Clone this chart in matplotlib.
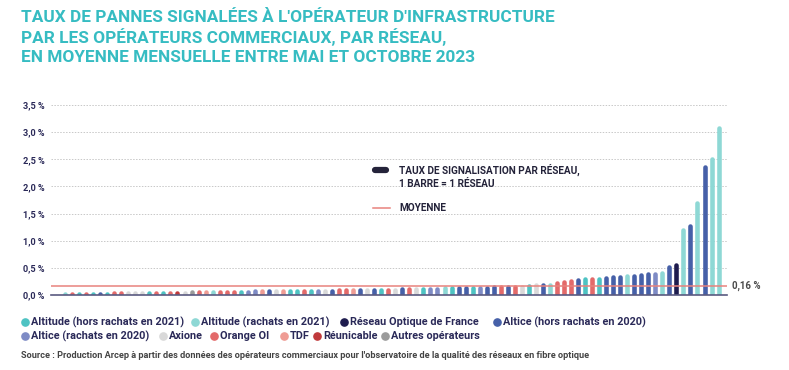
import matplotlib
matplotlib.use("Agg")
import matplotlib.pyplot as plt
from matplotlib.lines import Line2D

plt.rcParams['font.family'] = ['Roboto', 'DejaVu Sans']

# ---- data ----
operators = [
    "Axione", "Altitude (rachats en 2021)", "Orange OI", "Altitude (hors rachats en 2021)", "Orange OI",
    "Altitude (hors rachats en 2021)", "Altice (hors rachats en 2020)", "Altitude (hors rachats en 2021)", "Orange OI", "Orange OI",
    "Axione", "Axione", "Axione", "Altitude (hors rachats en 2021)", "Orange OI",
    "Altitude (hors rachats en 2021)", "Orange OI", "Réunicable", "Axione", "Autres opérateurs",
    "Orange OI", "TDF", "Altitude (rachats en 2021)", "Orange OI", "Orange OI",
    "Orange OI", "Altitude (hors rachats en 2021)", "Altice (rachats en 2020)", "Altice (rachats en 2020)", "TDF",
    "Altice (hors rachats en 2020)", "Axione", "TDF", "Altitude (hors rachats en 2021)", "Altitude (hors rachats en 2021)",
    "Orange OI", "Altitude (hors rachats en 2021)", "Altice (rachats en 2020)", "Axione", "Altice (hors rachats en 2020)",
    "Orange OI", "Orange OI", "TDF", "Altice (hors rachats en 2020)", "Axione",
    "Altice (hors rachats en 2020)", "Altitude (hors rachats en 2021)", "Orange OI", "Axione", "Altice (hors rachats en 2020)",
    "Orange OI", "Axione", "Altitude (hors rachats en 2021)", "Altice (rachats en 2020)", "Altice (rachats en 2020)",
    "Altitude (rachats en 2021)", "Altitude (hors rachats en 2021)", "Altice (hors rachats en 2020)", "Altice (hors rachats en 2020)", "Altitude (hors rachats en 2021)",
    "Altice (rachats en 2020)", "Altice (hors rachats en 2020)", "Altice (hors rachats en 2020)", "Orange OI", "Altice (hors rachats en 2020)",
    "Orange OI", "Axione", "Altitude (hors rachats en 2021)", "Axione", "Altice (hors rachats en 2020)",
    "Altitude (rachats en 2021)", "Orange OI", "Orange OI", "Orange OI", "Altice (hors rachats en 2020)",
    "Altitude (hors rachats en 2021)", "Orange OI", "Altitude (hors rachats en 2021)", "Altice (hors rachats en 2020)", "Altice (hors rachats en 2020)",
    "Altice (hors rachats en 2020)", "Altitude (rachats en 2021)", "Altice (hors rachats en 2020)", "Altice (hors rachats en 2020)", "Altice (hors rachats en 2020)",
    "Altice (rachats en 2020)", "Altitude (rachats en 2021)", "Altice (hors rachats en 2020)", "Réseau Optique de France", "Altitude (rachats en 2021)",
    "Altice (hors rachats en 2020)", "Altitude (rachats en 2021)", "Altice (hors rachats en 2020)", "Altitude (rachats en 2021)", "Altitude (rachats en 2021)",
]
rates = [
    0.005, 0.01, 0.015, 0.015, 0.02, 0.02, 0.025, 0.025, 0.03, 0.03,
    0.03, 0.035, 0.035, 0.035, 0.04, 0.04, 0.045, 0.045, 0.045, 0.05,
    0.05, 0.05, 0.055, 0.055, 0.055, 0.06, 0.06, 0.06, 0.065, 0.065,
    0.065, 0.07, 0.07, 0.07, 0.075, 0.075, 0.075, 0.08, 0.08, 0.08,
    0.085, 0.085, 0.085, 0.09, 0.09, 0.095, 0.095, 0.10, 0.10, 0.105,
    0.105, 0.11, 0.11, 0.115, 0.115, 0.12, 0.125, 0.125, 0.13, 0.13,
    0.135, 0.135, 0.14, 0.145, 0.145, 0.15, 0.15, 0.16, 0.18, 0.19,
    0.19, 0.23, 0.24, 0.25, 0.27, 0.29, 0.29, 0.30, 0.32, 0.33,
    0.34, 0.35, 0.35, 0.36, 0.38, 0.39, 0.41, 0.52, 0.55, 1.19,
    1.28, 1.70, 2.35, 2.50, 3.07,
]
mean_rate = 0.16
yticks = [0.0, 0.5, 1.0, 1.5, 2.0, 2.5, 3.0, 3.5]
ytick_labels = ["0,0 %", "0,5 %", "1,0 %", "1,5 %", "2,0 %", "2,5 %", "3,0 %", "3,5 %"]

legend_names = [
    "Altitude (hors rachats en 2021)", "Altitude (rachats en 2021)", "Réseau Optique de France",
    "Altice (hors rachats en 2020)", "Altice (rachats en 2020)", "Axione", "Orange OI", "TDF",
    "Réunicable", "Autres opérateurs",
]
palette = {
    "Altitude (hors rachats en 2021)": "#4EC3C3",
    "Altitude (rachats en 2021)": "#8ED8D5",
    "Réseau Optique de France": "#1E1C4E",
    "Altice (hors rachats en 2020)": "#4660A8",
    "Altice (rachats en 2020)": "#7E8BC5",
    "Axione": "#D9D9D9",
    "Orange OI": "#E36A6A",
    "TDF": "#EF9C94",
    "Réunicable": "#C0393B",
    "Autres opérateurs": "#9B9B9B",
}

TEAL = "#36BCC2"
NAVY = "#2A2958"

W, H = 789, 370
fig = plt.figure(figsize=(W / 100, H / 100), dpi=100)
fig.patch.set_facecolor("white")

# main axes (pixel box: x 51..727, y 105..295)
ax = fig.add_axes([51 / W, 1 - 295 / H, (727 - 51) / W, (295 - 105) / H])
x = list(range(len(rates)))
# bars with rounded tops (round caps, bottom clipped by the axes)
ax.vlines(x, 0, rates, colors=[palette[o] for o in operators], linewidth=3.3,
          capstyle="round", zorder=3)
ax.set_xlim(-1, len(rates) + 0.2)
ax.set_ylim(0, 3.5)
ax.set_yticks(yticks)
ax.set_yticklabels(ytick_labels, fontsize=6.6, fontweight="bold", color=NAVY)
ax.set_xticks([])
ax.tick_params(axis="y", length=0, pad=4.5)
for s in ["top", "right", "left"]:
    ax.spines[s].set_visible(False)
ax.spines["bottom"].set_color("#5A5A80")
ax.spines["bottom"].set_linewidth(1.2)
ax.spines["bottom"].set_zorder(5)
ax.grid(axis="y", color="#C8C8C8", linestyle=(0, (1.5, 1.5)), linewidth=0.7, zorder=0)
ax.set_axisbelow(True)
ax.axhline(mean_rate, color="#E8837D", linewidth=1.1, zorder=4)
ax.text(1.008, mean_rate, "0,16 %", transform=ax.get_yaxis_transform(), fontsize=7,
        fontweight="bold", color="#4A4A4A", va="center", ha="left")

# overlay in pixel coordinates for annotations
ov = fig.add_axes([0, 0, 1, 1])
ov.set_xlim(0, W)
ov.set_ylim(H, 0)
ov.axis("off")
ov.patch.set_alpha(0)

# title
title_lines = [
    "TAUX DE PANNES SIGNALÉES À L'OPÉRATEUR D'INFRASTRUCTURE",
    "PAR LES OPÉRATEURS COMMERCIAUX, PAR RÉSEAU,",
    "EN MOYENNE MENSUELLE ENTRE MAI ET OCTOBRE 2023",
]
for i, t in enumerate(title_lines):
    ov.text(21, 18 + i * 19.5, t, fontsize=12.4, fontweight="bold", color=TEAL, va="center", ha="left")

# in-plot legend
ov.add_line(Line2D([375, 386], [170, 170], color="#24233A", linewidth=4.5, solid_capstyle="round"))
ov.text(399, 170, "TAUX DE SIGNALISATION PAR RÉSEAU,", fontsize=7.2, fontweight="bold", color="#24233A", va="center")
ov.text(399, 184, "1 BARRE = 1 RÉSEAU", fontsize=7.2, fontweight="bold", color="#24233A", va="center")
ov.add_line(Line2D([373, 390], [208, 208], color="#E8837D", linewidth=1.1))
ov.text(399, 208, "MOYENNE", fontsize=7.2, fontweight="bold", color="#24233A", va="center")

# bottom legend
rows = [
    [(31, legend_names[0]), (201, legend_names[1]), (350, legend_names[2]), (503, legend_names[3])],
    [(31, legend_names[4]), (169, legend_names[5]), (220, legend_names[6]), (290, legend_names[7]),
     (323, legend_names[8]), (391, legend_names[9])],
]
row_y = [322, 336]
for ry, row in zip(row_y, rows):
    for tx, name in row:
        ov.plot([tx - 6], [ry], marker="o", markersize=5.2, color=palette[name], linestyle="none")
        ov.text(tx, ry, name, fontsize=7.8, fontweight="bold", color=NAVY, va="center", ha="left")

ov.text(21, 355, "Source : Production Arcep à partir des données des opérateurs commerciaux pour l'observatoire de la qualité des réseaux en fibre optique",
        fontsize=6.6, fontweight="bold", color="#444444", va="center", ha="left")

fig.savefig("out.png", dpi=100, facecolor="white")
